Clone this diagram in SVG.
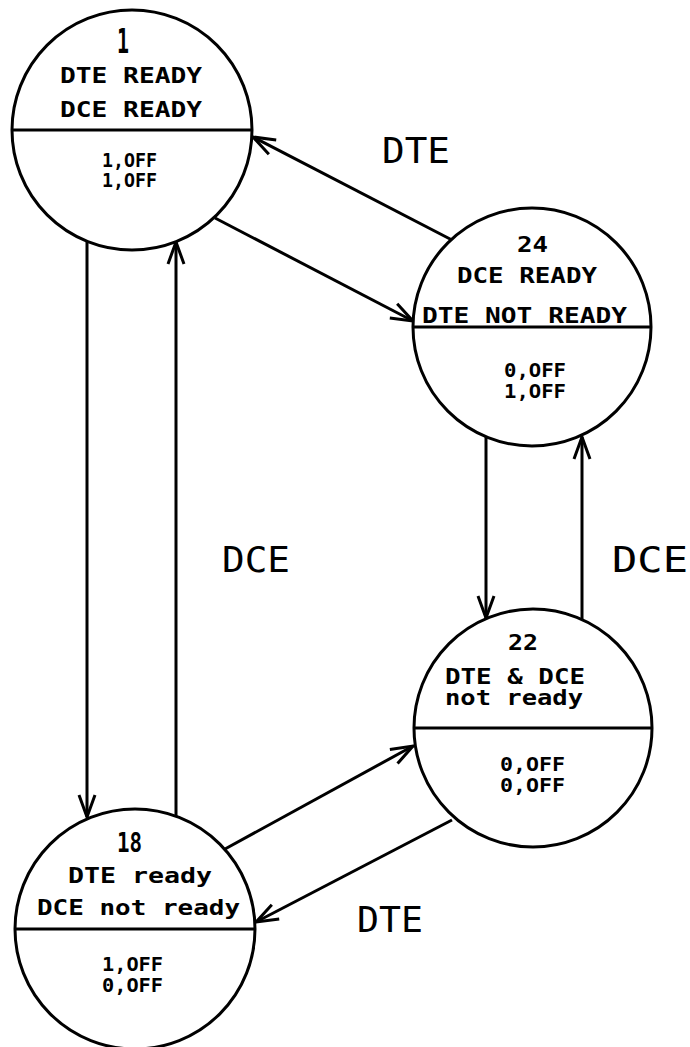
<svg xmlns="http://www.w3.org/2000/svg" width="690" height="1047" viewBox="0 0 690 1047">
<defs>
<style>
.c{fill:#fff;stroke:#000;stroke-width:3}
.d{stroke:#000;stroke-width:3}
.t{font-family:"DejaVu Sans Mono","Liberation Mono",monospace;font-weight:bold;fill:#000;text-anchor:start}
.s{font-size:22px}
.o{font-size:19px}
.l{font-family:"DejaVu Sans Mono","Liberation Mono",monospace;font-size:36px;fill:#000}
.e{fill:none;stroke:#000;stroke-width:3}
</style>
<marker id="arr" viewBox="0 0 26 20" refX="24" refY="10" markerWidth="26" markerHeight="20" orient="auto" markerUnits="userSpaceOnUse">
<path d="M2,2 L24,10 L2,18" fill="none" stroke="#000" stroke-width="3"/>
</marker>
</defs>
<rect width="690" height="1047" fill="#fff"/>
<g id="connectors">
<path class="e" d="M87,241 L87,817" marker-end="url(#arr)"/>
<path class="e" d="M176,816 L176,242" marker-end="url(#arr)"/>
<path class="e" d="M452,240 L253,137" marker-end="url(#arr)"/>
<path class="e" d="M215,218 L413,321" marker-end="url(#arr)"/>
<path class="e" d="M486,437 L486,618" marker-end="url(#arr)"/>
<path class="e" d="M582,620 L582,437" marker-end="url(#arr)"/>
<path class="e" d="M225,849 L413,746" marker-end="url(#arr)"/>
<path class="e" d="M452,820 L256,922" marker-end="url(#arr)"/>
</g>
<g id="node1">
<circle class="c" cx="132" cy="130" r="120"/>
<line class="d" x1="12" y1="130" x2="252" y2="130"/>
<text class="t" x="117" y="53" font-size="34" textLength="12" lengthAdjust="spacingAndGlyphs">1</text>
<text class="t s" x="60" y="83" textLength="142" lengthAdjust="spacingAndGlyphs">DTE READY</text>
<text class="t s" x="60" y="117" textLength="142" lengthAdjust="spacingAndGlyphs">DCE READY</text>
<text class="t o" x="102" y="167" textLength="55" lengthAdjust="spacingAndGlyphs">1,OFF</text>
<text class="t o" x="102" y="187" textLength="55" lengthAdjust="spacingAndGlyphs">1,OFF</text>
</g>
<g id="node24">
<circle class="c" cx="532" cy="327" r="119"/>
<line class="d" x1="413" y1="327" x2="651" y2="327"/>
<text class="t" x="517" y="252" font-size="21" textLength="31" lengthAdjust="spacingAndGlyphs">24</text>
<text class="t s" x="457" y="283" textLength="140" lengthAdjust="spacingAndGlyphs">DCE READY</text>
<text class="t s" x="422" y="323" textLength="205" lengthAdjust="spacingAndGlyphs">DTE NOT READY</text>
<text class="t o" x="504" y="377" textLength="62" lengthAdjust="spacingAndGlyphs">0,OFF</text>
<text class="t o" x="504" y="398" textLength="62" lengthAdjust="spacingAndGlyphs">1,OFF</text>
</g>
<g id="node22">
<circle class="c" cx="533" cy="728" r="119"/>
<line class="d" x1="414" y1="728" x2="652" y2="728"/>
<text class="t" x="508" y="650" font-size="22" textLength="30" lengthAdjust="spacingAndGlyphs">22</text>
<text class="t" x="445" y="684" font-size="21" textLength="140" lengthAdjust="spacingAndGlyphs">DTE &amp; DCE</text>
<text class="t" x="445" y="705" font-size="21" textLength="138" lengthAdjust="spacingAndGlyphs">not ready</text>
<text class="t o" x="500" y="771" textLength="65" lengthAdjust="spacingAndGlyphs">0,OFF</text>
<text class="t o" x="500" y="792" textLength="65" lengthAdjust="spacingAndGlyphs">0,OFF</text>
</g>
<g id="node18">
<circle class="c" cx="135" cy="929" r="120"/>
<line class="d" x1="15" y1="929" x2="255" y2="929"/>
<text class="t" x="117" y="852" font-size="26" textLength="25" lengthAdjust="spacingAndGlyphs">18</text>
<text class="t s" x="68" y="883" textLength="144" lengthAdjust="spacingAndGlyphs">DTE ready</text>
<text class="t s" x="37" y="915" textLength="203" lengthAdjust="spacingAndGlyphs">DCE not ready</text>
<text class="t o" x="102" y="971" textLength="61" lengthAdjust="spacingAndGlyphs">1,OFF</text>
<text class="t o" x="102" y="992" textLength="61" lengthAdjust="spacingAndGlyphs">0,OFF</text>
</g>
<g id="edge-labels">
<text class="l" x="382" y="163" textLength="68" lengthAdjust="spacingAndGlyphs">DTE</text>
<text class="l" x="222" y="572" textLength="68" lengthAdjust="spacingAndGlyphs">DCE</text>
<text class="l" x="612" y="572" textLength="76" lengthAdjust="spacingAndGlyphs">DCE</text>
<text class="l" x="357" y="932" textLength="66" lengthAdjust="spacingAndGlyphs">DTE</text>
</g>
</svg>
